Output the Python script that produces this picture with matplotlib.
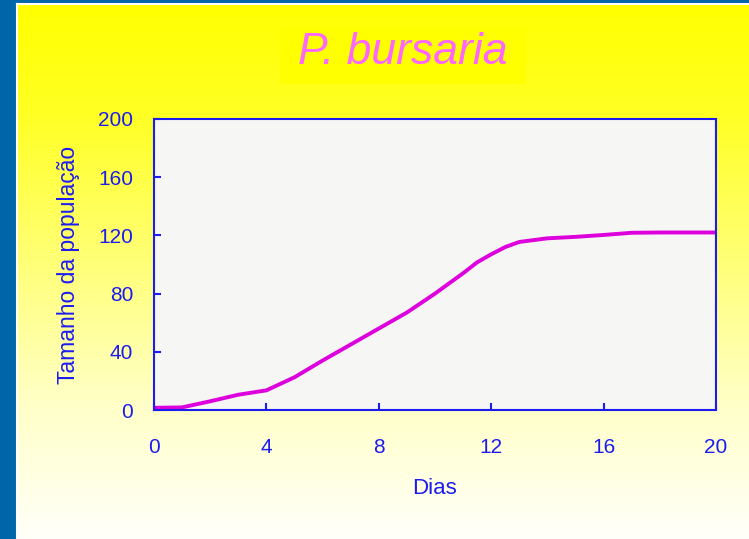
import numpy as np
import matplotlib.pyplot as plt
from matplotlib.patches import Rectangle

# population data
dias = [0, 1, 2, 3, 4, 5, 6, 7, 8, 9, 10, 11, 11.5, 12, 12.5, 13, 14, 15, 16, 17, 18, 19, 20]
populacao = [1.5, 1.8, 6, 10.5, 13.5, 22.5, 34, 45, 56, 67, 80, 94, 101.5, 107, 112, 115.5,
             118, 119, 120.3, 121.8, 122, 122, 122]
x_ticks = [0, 4, 8, 12, 16, 20]
y_ticks = [0, 40, 80, 120, 160, 200]

W, H = 749, 539
BLUE = "#1c1cf0"
sans = ["Liberation Sans", "DejaVu Sans"]

fig = plt.figure(figsize=(W / 100, H / 100), dpi=100, facecolor="#0066aa")

# yellow gradient background with thin white edge
bg = fig.add_axes([17 / W, 0, 1 - 17 / W, 1 - 4 / H])
stops_y = [0.0, 0.2, 0.45, 0.75, 1.0]
stops_b = [0, 35, 110, 200, 250]
t = np.linspace(0, 1, 400)
grad = np.ones((400, 1, 3))
grad[:, 0, 2] = np.interp(t, stops_y, stops_b) / 255.0
bg.imshow(grad, aspect="auto", extent=[0, 1, 0, 1], origin="upper")
bg.set_xlim(0, 1)
bg.set_ylim(0, 1)
bg.set_xticks([])
bg.set_yticks([])
for s in ["right", "bottom"]:
    bg.spines[s].set_visible(False)
for s in ["left", "top"]:
    bg.spines[s].set_color("white")
    bg.spines[s].set_linewidth(1.5)

# title box
fig.patches.append(Rectangle((280 / W, 1 - 83 / H), 245 / W, 55 / H,
                             transform=fig.transFigure, color="#ffff00", zorder=1))
fig.text(403 / W, 1 - 53 / H, "P. bursaria", ha="center", va="center",
         fontsize=32, style="italic", color="#ff66ff", family=sans)

ax = fig.add_axes([154 / W, 1 - 410 / H, 562 / W, 291 / H])
ax.set_facecolor("#f6f6f4")
ax.plot(dias, populacao, color="#dd00dd", linewidth=2.8, solid_joinstyle="round")
ax.set_xlim(0, 20)
ax.set_ylim(0, 200)
ax.set_xticks(x_ticks)
ax.set_yticks(y_ticks)
for s in ax.spines.values():
    s.set_color(BLUE)
    s.set_linewidth(1.5)
ax.tick_params(direction="in", length=5, width=1.5, color=BLUE, labelcolor=BLUE,
               labelsize=15, top=False, right=False)
ax.tick_params(axis="y", pad=15)
ax.tick_params(axis="x", pad=20)
for lab in ax.get_xticklabels() + ax.get_yticklabels():
    lab.set_family(sans)

ax.set_xlabel("Dias", color=BLUE, fontsize=16, family=sans)
ax.set_ylabel("Tamanho da população", color=BLUE, fontsize=16.5, family=sans)
ax.xaxis.set_label_coords(0.5, -(488 - 410) / 291, transform=ax.transAxes)
ax.yaxis.set_label_coords(-(154 - 68) / 562, 0.5, transform=ax.transAxes)
ax.xaxis.label.set_va("center")
ax.yaxis.label.set_va("center")

fig.savefig("out.png", dpi=100, facecolor=fig.get_facecolor())
